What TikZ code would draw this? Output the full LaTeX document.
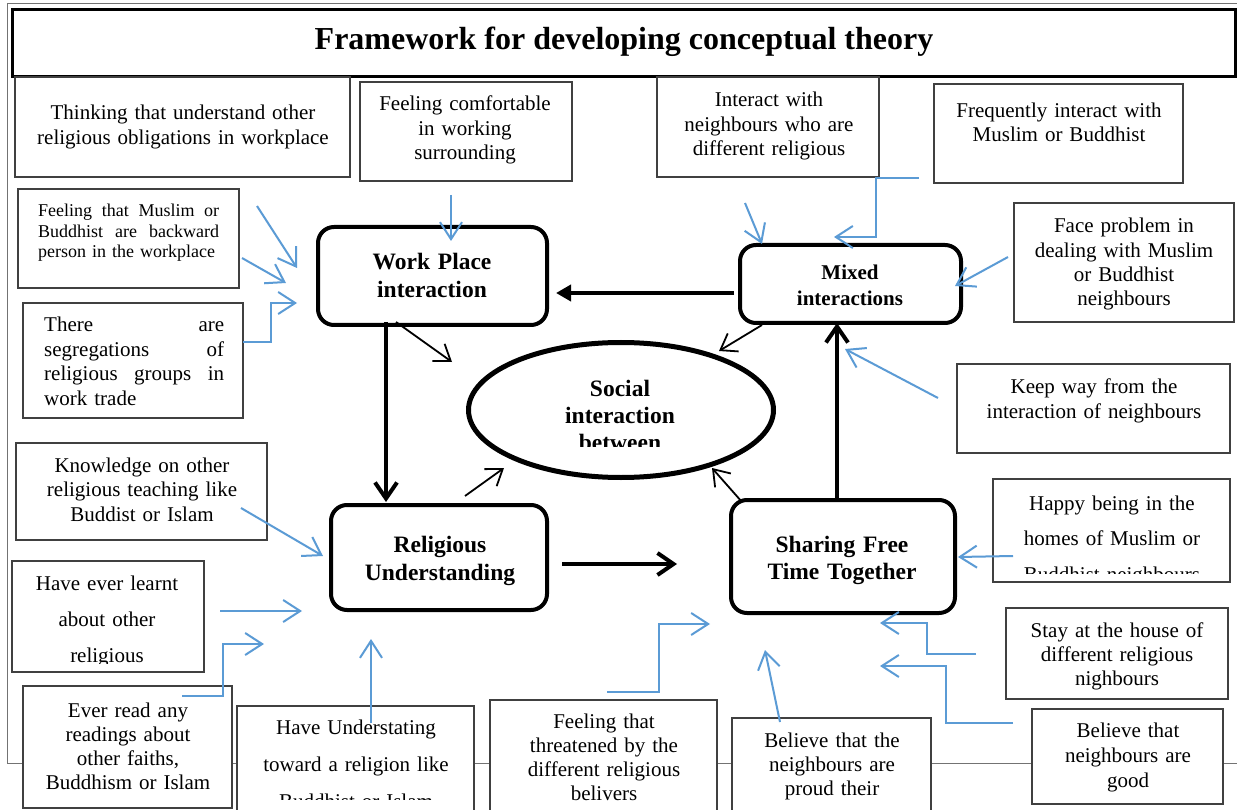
\documentclass[tikz,border=0pt]{standalone}
\usepackage{fontspec}
\setmainfont{Liberation Serif}
\usetikzlibrary{arrows.meta,shapes.geometric,fit}
\definecolor{flowblue}{RGB}{91,155,213}
\definecolor{boxline}{RGB}{64,64,64}

\begin{document}
\begin{tikzpicture}[x=1pt,y=-1pt,
  outerframe/.style={draw=black!55,line width=1pt},
  titlebox/.style={draw=black,line width=3pt,fill=white,inner sep=0pt},
  textbox/.style={draw=boxline,line width=1.2pt,fill=white,inner sep=0pt},
  mainbox/.style={draw=black,line width=4pt,rounded corners=16pt,fill=white,inner sep=0pt},
  body/.style={font=\fontsize{21}{25}\selectfont,align=center,inner sep=0pt,anchor=base},
  smallbody/.style={font=\fontsize{18}{20.5}\selectfont,align=left,inner sep=0pt,anchor=base west,text width=181pt},
  heading/.style={font=\bfseries\fontsize{23.5}{28}\selectfont,align=center,inner sep=0pt,anchor=base},
  flow/.style={draw=flowblue,line width=2pt,-{Straight Barb[length=17pt,width=22pt]}},
  thinlink/.style={draw=black,line width=1.8pt,-{Straight Barb[length=15pt,width=21pt]}},
  thicklink/.style={draw=black,line width=4pt,-{Straight Barb[length=16pt,width=22pt]}},
  filledlink/.style={draw=black,line width=4pt,-{Triangle[length=15pt,width=16pt]}},
]
\useasboundingbox (0,0) rectangle (1237,810);
\clip (0,0) rectangle (1237,810);
\fill[white] (0,0) rectangle (1237,810);

% outer frame and title
\draw[outerframe] (7,4) rectangle (1250,763);
\node[titlebox, fit={(12,10) (1235,77)}] (title) {};
\node[font=\bfseries\fontsize{32}{38}\selectfont, inner sep=0pt, anchor=base] (title-t) at (624,50) {Framework for developing conceptual theory};

% factor boxes
\node[textbox, fit={(15,77) (350,177)}] (think) {};
\node[textbox, fit={(360,82) (572,181)}] (comf) {};
\node[textbox, fit={(657,77) (879,177)}] (inter) {};
\node[textbox, fit={(934,84) (1183,183)}] (freq) {};
\node[textbox, fit={(18,189) (239,288)}] (fm) {};
\node[textbox, fit={(23,303) (243,418)}] (seg) {};
\node[textbox, fit={(16,443) (267,540)}] (know) {};
\node[textbox, fit={(12,561) (204,672)}] (learnt) {};
\node[textbox, fit={(23,686) (232,808)}] (read) {};
\node[textbox, fit={(237,706) (474,815)}] (under) {};
\node[textbox, fit={(490,700) (717,815)}] (threat) {};
\node[textbox, fit={(732,718) (931,815)}] (proud) {};
\node[textbox, fit={(1032,709) (1223,804)}] (good) {};
\node[textbox, fit={(1006,608) (1228,699)}] (stay) {};
\node[textbox, fit={(993,479) (1230,582)}] (happy) {};
\node[textbox, fit={(957,364) (1230,453)}] (keep) {};
\node[textbox, fit={(1014,203) (1234,322)}] (face) {};

% factor texts
\node[body, text width=330pt] (think-t) at (183,120) {Thinking that understand other\\religious obligations in workplace};
\node[body, text width=210pt, font=\fontsize{21}{24.5}\selectfont] (comf-t) at (465,111) {Feeling comfortable\\in working\\surrounding};
\node[body, text width=220pt, font=\fontsize{21}{24.5}\selectfont] (inter-t) at (769,107) {Interact with\\neighbours who are\\different religious};
\node[body, text width=245pt, font=\fontsize{21}{24}\selectfont] (freq-t) at (1059,118) {Frequently interact with\\Muslim or Buddhist};
\node[smallbody] (fm-t) at (38,217) {Feeling\hfill that\hfill Muslim\hfill or\\Buddhist\hfill are\hfill backward\\person in the workplace};
\node[body, align=left, anchor=base west, text width=180pt, font=\fontsize{21}{24.5}\selectfont] (seg-t) at (44,332) {There\hfill are\\segregations\hfill of\\religious\hfill groups\hfill in\\work trade};
\node[body, text width=245pt, font=\fontsize{21}{24.5}\selectfont] (know-t) at (142,472) {Knowledge on other\\religious teaching like\\Buddist or Islam};
\begin{scope}
  \clip (12,561) rectangle (204,663);
  \node[body, text width=190pt, font=\fontsize{21}{36}\selectfont] (learnt-t) at (107,590) {Have ever learnt\\about other\\religious};
\end{scope}
\node[body, text width=205pt, font=\fontsize{21}{24.3}\selectfont] (read-t) at (128,717) {Ever read any\\readings about\\other faiths,\\Buddhism or Islam};
\begin{scope}
  \clip (237,706) rectangle (474,799);
  \node[body, text width=235pt, font=\fontsize{21}{37}\selectfont] (under-t) at (356,734) {Have Understating\\toward a religion like\\Buddhist or Islam};
\end{scope}
\node[body, text width=225pt, font=\fontsize{21}{24.3}\selectfont] (threat-t) at (604,728) {Feeling that\\threatened by the\\different religious\\belivers};
\node[body, text width=195pt, font=\fontsize{21}{24}\selectfont] (proud-t) at (832,747) {Believe that the\\neighbours are\\proud their};
\node[body, text width=190pt] (good-t) at (1128,737) {Believe that\\neighbours are\\good};
\node[body, text width=220pt, font=\fontsize{21}{24}\selectfont] (stay-t) at (1117,637) {Stay at the house of\\different religious\\nighbours};
\begin{scope}
  \clip (993,479) rectangle (1230,573);
  \node[body, text width=235pt, font=\fontsize{21}{35.5}\selectfont] (happy-t) at (1112,510) {Happy being in the\\homes of Muslim or\\Buddhist neighbours};
\end{scope}
\node[body, text width=270pt] (keep-t) at (1094,393) {Keep way from the\\interaction of neighbours};
\node[body, text width=218pt, font=\fontsize{21}{24.3}\selectfont] (face-t) at (1124,233) {Face problem in\\dealing with Muslim\\or Buddhist\\neighbours};

% core concepts
\node[mainbox, fit={(318,227) (547,325)}] (work) {};
\node[mainbox, fit={(740,245) (961,323)}] (mixed) {};
\node[mainbox, fit={(331,505) (547,610)}] (rel) {};
\node[mainbox, fit={(731,500) (955,613)}] (share) {};
\node[ellipse, draw=black, line width=5pt, fill=white, inner sep=0pt, minimum width=305pt, minimum height=135pt] (soc) at (621,410) {};

\node[heading, text width=220pt] (work-t) at (432,270) {Work Place\\interaction};
\node[heading, text width=215pt, font=\bfseries\fontsize{21}{25}\selectfont] (mixed-t) at (850,280) {Mixed\\interactions};
\node[heading, text width=210pt] (rel-t) at (440,552) {Religious\\Understanding};
\node[heading, text width=220pt, font=\bfseries\fontsize{23.5}{27}\selectfont] (share-t) at (842,552) {Sharing Free\\Time Together};
\begin{scope}
  \clip (466,340) rectangle (776,446);
  \node[heading, text width=250pt, font=\bfseries\fontsize{23.5}{27}\selectfont] (soc-t) at (620,396) {Social\\interaction\\between};
\end{scope}

% links between the core concepts
\coordinate (mixed-w) at (734,293);
\coordinate (work-e) at (556,293);
\coordinate (work-s) at (386,322);
\coordinate (rel-n) at (386,502);
\coordinate (rel-e) at (562,564);
\coordinate (share-w) at (677,564);
\coordinate (share-n) at (837,498);
\coordinate (mixed-s) at (837,323);
\draw[filledlink] (mixed-w) -- (work-e);
\draw[thicklink] (work-s) -- (rel-n);
\draw[thicklink] (rel-e) -- (share-w);
\draw[thicklink] (share-n) -- (mixed-s);

\coordinate (work-se) at (396,322);
\coordinate (soc-nw) at (452,362);
\coordinate (mixed-sw) at (762,325);
\coordinate (soc-ne) at (719,351);
\coordinate (rel-ne) at (465,496);
\coordinate (soc-sw) at (504,468);
\coordinate (share-nw) at (742,502);
\coordinate (soc-se) at (712,468);
\draw[thinlink] (work-se) -- (soc-nw);
\draw[thinlink] (mixed-sw) -- (soc-ne);
\draw[thinlink] (rel-ne) -- (soc-sw);
\draw[thinlink] (share-nw) -- (soc-se);

% factors feeding the core concepts
\coordinate (comf-out) at (451,195);   \coordinate (work-in1) at (451,241);
\coordinate (fm-out1) at (257,206);    \coordinate (work-in2) at (297,268);
\coordinate (fm-out2) at (242,258);    \coordinate (work-in3) at (286,283);
\coordinate (seg-out) at (243,342);    \coordinate (work-in4) at (297,303);
\coordinate (inter-out) at (745,203);  \coordinate (mixed-in1) at (762,244);
\coordinate (freq-out) at (919,178);   \coordinate (mixed-in2) at (834,237);
\coordinate (face-out) at (1008,257);  \coordinate (mixed-in3) at (955,286);
\coordinate (keep-out) at (938,398);   \coordinate (mixed-in4) at (845,349);
\coordinate (happy-out) at (1013,556); \coordinate (share-in1) at (958,557);
\coordinate (stay-out) at (976,654);   \coordinate (share-in2) at (880,623);
\coordinate (good-out) at (1013,723);  \coordinate (share-in3) at (880,666);
\coordinate (proud-out) at (780,722);  \coordinate (share-in4) at (765,650);
\coordinate (threat-out) at (607,692); \coordinate (share-in5) at (710,624);
\coordinate (under-out) at (371,723);  \coordinate (rel-in1) at (371,639);
\coordinate (read-out) at (182,696);   \coordinate (rel-in2) at (264,644);
\coordinate (learnt-out) at (220,611); \coordinate (rel-in3) at (302,611);
\coordinate (know-out) at (241,508);   \coordinate (rel-in4) at (323,556);

\draw[flow] (comf-out) -- (work-in1);
\draw[flow] (fm-out1) -- (work-in2);
\draw[flow] (fm-out2) -- (work-in3);
\draw[flow] (seg-out) -- (271,342) -- (271,303) -- (work-in4);
\draw[flow] (inter-out) -- (mixed-in1);
\draw[flow] (freq-out) -- (876,178) -- (876,237) -- (mixed-in2);
\draw[flow] (face-out) -- (mixed-in3);
\draw[flow] (keep-out) -- (mixed-in4);
\draw[flow] (happy-out) -- (share-in1);
\draw[flow] (stay-out) -- (927,654) -- (927,623) -- (share-in2);
\draw[flow] (good-out) -- (946,723) -- (946,666) -- (share-in3);
\draw[flow] (proud-out) -- (share-in4);
\draw[flow] (threat-out) -- (659,692) -- (659,624) -- (share-in5);
\draw[flow] (under-out) -- (rel-in1);
\draw[flow] (read-out) -- (223,696) -- (223,644) -- (rel-in2);
\draw[flow] (learnt-out) -- (rel-in3);
\draw[flow] (know-out) -- (rel-in4);
\end{tikzpicture}
\end{document}
